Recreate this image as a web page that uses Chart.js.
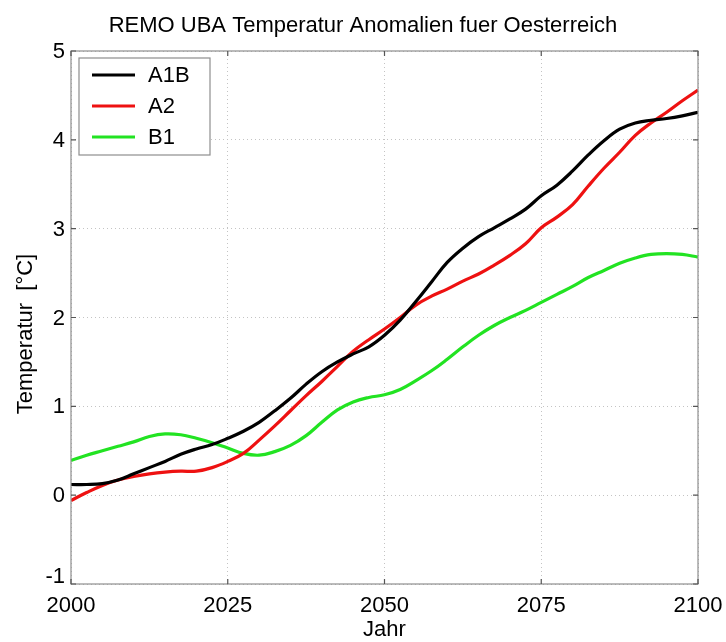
<!DOCTYPE html>
<html>
<head>
<meta charset="utf-8">
<script src="https://cdn.jsdelivr.net/npm/chart.js@4.4.1/dist/chart.umd.min.js"></script>
<style>
  html, body { margin: 0; padding: 0; background: #fff; }
  #wrap { width: 726px; height: 642px; }
</style>
</head>
<body>
<div id="wrap"><canvas id="c" width="726" height="642"></canvas></div>
<script>
// Years sampled every 2.5 years
const years = [2000, 2002.5, 2005, 2007.5, 2010, 2012.5, 2015, 2017.5, 2020, 2022.5,
  2025, 2027.5, 2030, 2032.5, 2035, 2037.5, 2040, 2042.5, 2045, 2047.5,
  2050, 2052.5, 2055, 2057.5, 2060, 2062.5, 2065, 2067.5, 2070, 2072.5,
  2075, 2077.5, 2080, 2082.5, 2085, 2087.5, 2090, 2092.5, 2095, 2097.5, 2100];

// Temperature anomalies [°C] per scenario
const a1b = [0.12, 0.12, 0.13, 0.17, 0.24, 0.31, 0.38, 0.46, 0.52, 0.57,
  0.64, 0.72, 0.82, 0.95, 1.09, 1.25, 1.39, 1.50, 1.59, 1.67,
  1.80, 1.97, 2.18, 2.40, 2.62, 2.78, 2.91, 3.01, 3.11, 3.22,
  3.37, 3.49, 3.65, 3.83, 3.99, 4.12, 4.19, 4.22, 4.24, 4.27, 4.31];
const a2 = [-0.06, 0.03, 0.11, 0.17, 0.21, 0.24, 0.26, 0.27, 0.27, 0.31,
  0.38, 0.47, 0.62, 0.78, 0.95, 1.12, 1.28, 1.45, 1.62, 1.75,
  1.87, 2.00, 2.14, 2.24, 2.32, 2.41, 2.49, 2.59, 2.70, 2.83,
  3.01, 3.13, 3.27, 3.48, 3.68, 3.86, 4.05, 4.19, 4.31, 4.44, 4.56];
const b1 = [0.39, 0.45, 0.50, 0.55, 0.60, 0.66, 0.69, 0.68, 0.64, 0.59,
  0.53, 0.47, 0.45, 0.49, 0.56, 0.67, 0.82, 0.96, 1.05, 1.10,
  1.13, 1.19, 1.29, 1.40, 1.53, 1.67, 1.80, 1.91, 2.00, 2.08,
  2.17, 2.26, 2.35, 2.45, 2.53, 2.61, 2.67, 2.71, 2.72, 2.71, 2.68];

const seriesNames = ['A1B', 'A2', 'B1'];
const seriesColors = ['#000000', '#ee1111', '#22e322'];
const xTicks = [2000, 2025, 2050, 2075, 2100];
const yTicks = [-1, 0, 1, 2, 3, 4, 5];
const titleText = 'REMO UBA Temperatur Anomalien fuer Oesterreich';
const xTitle = 'Jahr';
const yTitle = 'Temperatur  [°C]';

const FONT = '"Liberation Sans", Arial, Helvetica, sans-serif';

function text(ctx, s, x, y, size, align, baseline, rot) {
  ctx.save();
  ctx.translate(x, y);
  if (rot) ctx.rotate(rot);
  ctx.font = size + 'px ' + FONT;
  ctx.textAlign = align;
  ctx.textBaseline = baseline;
  ctx.fillStyle = '#000';
  ctx.fillText(s, 0, 0);
  ctx.restore();
}

// Box, inward ticks, labels, titles and legend in the classic plot style
const frame = {
  id: 'frame',
  afterDraw(chart) {
    const ctx = chart.ctx;
    const a = chart.chartArea;
    const xs = chart.scales.x, ys = chart.scales.y;

    ctx.save();
    ctx.strokeStyle = '#8e8e8e';
    ctx.lineWidth = 1.2;
    ctx.strokeRect(a.left, a.top, a.right - a.left, a.bottom - a.top);
    ctx.strokeStyle = '#555';
    ctx.beginPath();
    const tl = 5;
    xTicks.forEach(v => {
      const px = xs.getPixelForValue(v);
      ctx.moveTo(px, a.bottom); ctx.lineTo(px, a.bottom - tl);
      ctx.moveTo(px, a.top); ctx.lineTo(px, a.top + tl);
    });
    yTicks.forEach(v => {
      const py = ys.getPixelForValue(v);
      ctx.moveTo(a.left, py); ctx.lineTo(a.left + tl, py);
      ctx.moveTo(a.right, py); ctx.lineTo(a.right - tl, py);
    });
    ctx.stroke();
    ctx.restore();

    xTicks.forEach(v => text(ctx, String(v), xs.getPixelForValue(v), a.bottom + 28, 22, 'center', 'alphabetic'));
    yTicks.forEach(v => {
      const py = ys.getPixelForValue(v) + (v === -1 ? -7 : 1);
      text(ctx, String(v), a.left - 6, py, 22, 'right', 'middle');
    });

    text(ctx, titleText, chart.width / 2, 32, 22, 'center', 'alphabetic');
    text(ctx, xTitle, (a.left + a.right) / 2, 636, 22, 'center', 'alphabetic');
    text(ctx, yTitle, 26, 334, 22, 'center', 'middle', -Math.PI / 2);

    // legend
    const lx = 79, ly = 58, lw = 131, lh = 97;
    ctx.save();
    ctx.fillStyle = '#fff';
    ctx.fillRect(lx, ly, lw, lh);
    ctx.strokeStyle = '#8e8e8e';
    ctx.lineWidth = 1.2;
    ctx.strokeRect(lx, ly, lw, lh);
    ctx.restore();
    chart.data.datasets.forEach((ds, i) => {
      const cy = ly + 17 + i * 31;
      ctx.save();
      ctx.strokeStyle = ds.borderColor;
      ctx.lineWidth = 3;
      ctx.beginPath();
      ctx.moveTo(lx + 13, cy); ctx.lineTo(lx + 56, cy);
      ctx.stroke();
      ctx.restore();
      text(ctx, ds.label, lx + 69, cy + 1, 22, 'left', 'middle');
    });
  }
};

const toPoints = arr => years.map((yr, i) => ({ x: yr, y: arr[i] }));

new Chart(document.getElementById('c'), {
  type: 'line',
  data: {
    datasets: [a1b, a2, b1].map((arr, i) => ({
      label: seriesNames[i],
      data: toPoints(arr),
      borderColor: seriesColors[i],
      backgroundColor: seriesColors[i],
      borderWidth: 3.2,
      pointRadius: 0,
      tension: 0.4,
      fill: false
    }))
  },
  options: {
    responsive: false,
    animation: false,
    devicePixelRatio: 1,
    layout: { padding: { top: 51, right: 28, left: 0, bottom: 0 } },
    plugins: { legend: { display: false }, title: { display: false }, tooltip: { enabled: false } },
    scales: {
      x: {
        type: 'linear', min: 2000, max: 2100,
        afterBuildTicks: s => { s.ticks = xTicks.map(v => ({ value: v })); },
        afterFit: s => { s.height = 58; },
        ticks: { display: false },
        grid: { color: '#c4c4c4', lineWidth: 1, drawTicks: false },
        border: { display: false, dash: [1, 3] }
      },
      y: {
        min: -1, max: 5,
        afterBuildTicks: s => { s.ticks = yTicks.map(v => ({ value: v })); },
        afterFit: s => { s.width = 71; },
        ticks: { display: false },
        grid: { color: '#c4c4c4', lineWidth: 1, drawTicks: false },
        border: { display: false, dash: [1, 3] }
      }
    }
  },
  plugins: [frame]
});
</script>
</body>
</html>
